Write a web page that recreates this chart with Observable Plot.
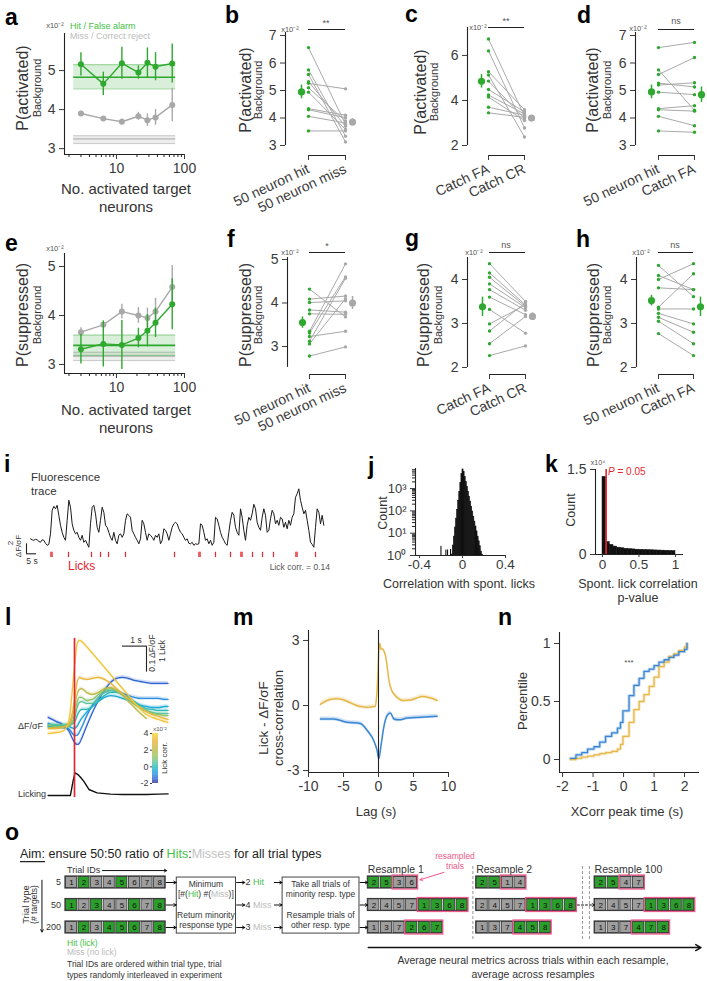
<!DOCTYPE html>
<html><head><meta charset="utf-8">
<script src="https://cdn.jsdelivr.net/npm/d3@7"></script>
<script src="https://cdn.jsdelivr.net/npm/@observablehq/plot@0.6"></script>
<style>
html,body{margin:0;padding:0;background:#fff;}
#root{position:relative;width:707px;height:981px;overflow:hidden;background:#fff;}
</style></head><body><div id="root"></div>
<script>
// ---------------- DATA ----------------
// a / e : vs number of activated targets
const nTargets = [3, 6.4, 12, 21, 28.5, 37.5, 66];
const aHit = [5.16, 4.66, 5.19, 4.95, 5.2, 5.1, 5.18];
const aHitErr = [0.3, 0.3, 0.41, 0.17, 0.38, 0.36, 0.5];
const aMiss = [3.9, 3.77, 3.69, 3.83, 3.73, 3.8, 4.12];
const aMissErr = [0.06, 0.04, 0.07, 0.1, 0.16, 0.2, 0.43];
const aHitBg = [4.53, 4.83, 5.15];
const aMissBg = [3.13, 3.25, 3.33];
const eHit = [3.31, 3.42, 3.4, 3.54, 3.69, 3.85, 4.23];
const eHitErr = [0.3, 0.47, 0.5, 0.2, 0.33, 0.3, 0.52];
const eMiss = [3.66, 3.81, 4.08, 4.0, 3.95, 4.08, 4.58];
const eMissErr = [0.09, 0.05, 0.15, 0.16, 0.2, 0.27, 0.44];
const eHitBg = [3.18, 3.39, 3.6];
const eMissBg = [3.08, 3.17, 3.25];
const bgSpan = [2.35, 74];

// paired panels (values x10^-2)
const bHit  = [6.56, 5.75, 5.58, 5.32, 5.26, 5.10, 4.94, 4.34, 4.30, 4.06, 3.53];
const bMiss = [3.77, 3.34, 3.13, 3.70, 5.06, 3.89, 3.58, 4.10, 4.01, 3.82, 3.53];
const bMeans = [[4.95, 0.25], [3.85, 0.12]];
const cFA = [6.73, 6.20, 5.28, 5.13, 4.86, 4.49, 4.24, 4.15, 3.70, 3.45];
const cCR = [3.30, 2.78, 3.59, 2.38, 3.20, 3.49, 3.40, 3.11, 3.35, 3.25];
const cMeans = [[4.85, 0.3], [3.22, 0.08]];
const dHit = [6.56, 5.75, 5.58, 5.27, 5.20, 4.94, 4.34, 4.30, 4.06, 3.53];
const dFA  = [6.75, 4.28, 6.20, 5.13, 5.28, 4.85, 4.45, 4.25, 3.72, 3.48];
const dMeans = [[4.95, 0.25], [4.85, 0.28]];
const fHit  = [4.32, 4.09, 4.01, 3.84, 3.75, 3.35, 3.31, 3.23, 3.12, 3.06, 2.78];
const fMiss = [3.68, 4.16, 4.05, 3.79, 3.74, 4.90, 4.60, 3.35, 4.57, 4.10, 2.99];
const fMeans = [[3.55, 0.13], [4.0, 0.15]];
const gFA = [4.36, 4.15, 4.05, 3.90, 3.77, 3.60, 3.32, 2.99, 2.83, 2.54, 2.27];
const gCR = [3.50, 3.42, 3.39, 3.36, 3.30, 3.20, 2.78, 3.42, 3.47, 3.16, 2.49];
const gMeans = [[3.38, 0.22], [3.16, 0.08]];
const hHit = [4.32, 4.09, 4.00, 3.81, 3.37, 3.33, 3.23, 3.14, 3.05, 2.77];
const hFA  = [3.61, 3.77, 4.36, 3.77, 4.13, 3.33, 2.99, 2.80, 2.54, 2.27];
const hMeans = [[3.52, 0.12], [3.38, 0.22]];

// i : fluorescence trace (dF/sF), sampled every 5/6 s
const iDt = 5 / 6;
const iTrace = [3.0,2.8,2.7,2.9,2.8,2.5,2.3,2.8,2.7,2.1,1.7,1.9,4.0,8.7,9.5,9.0,9.7,7.7,5.7,4.3,3.3,2.7,6.7,10.7,9.3,6.0,4.7,4.0,4.3,3.3,2.7,3.7,2.3,2.7,2.0,1.3,6.0,9.3,9.7,8.0,5.3,4.3,6.7,9.3,8.3,5.7,5.3,4.3,3.3,2.7,4.3,2.7,2.0,3.7,4.0,3.3,4.0,6.7,8.0,7.7,7.3,4.7,4.0,3.3,2.7,2.0,3.0,6.7,6.0,4.3,2.7,4.0,3.7,3.3,2.7,3.7,3.3,4.0,2.0,2.7,5.0,4.7,4.0,2.7,4.0,5.3,6.0,6.3,6.0,5.0,4.3,4.0,3.3,2.7,3.0,2.1,2.0,2.3,1.7,2.0,1.9,2.0,6.0,5.7,4.3,2.7,3.0,2.0,2.7,1.7,2.3,7.3,7.0,5.7,4.3,3.3,2.7,2.0,1.7,4.3,6.7,8.3,7.7,5.3,4.3,3.7,9.0,7.3,4.7,2.7,5.7,7.3,6.7,8.0,9.9,9.0,6.3,5.3,4.7,7.3,9.0,7.7,4.3,4.7,7.0,8.7,8.0,6.0,6.7,5.7,7.3,7.0,5.3,6.3,5.0,6.7,5.7,7.3,8.0,11.3,12.0,13.0,10.7,9.3,8.0,8.7,6.7,4.7,2.3,1.9,1.3,5.3,9.0,8.3,6.0,7.7,5.7];
const iLicks = [10.2, 10.8, 19, 30.5, 35, 39, 47.5, 72, 84.2, 84.8, 92.5, 100, 105.2, 105.8, 111, 116, 121.5, 132.7, 133.3, 142.5];

// j : histogram of correlation with spont. licks (bin left edge, width, count)
const jLeft = [-0.197,-0.151,-0.135,-0.107,-0.10,-0.09,-0.08,-0.07,-0.06,-0.05,-0.04,-0.03,-0.02,-0.01,0.00,0.01,0.02,0.03,0.04,0.05,0.06,0.07,0.08,0.09,0.10,0.11,0.12,0.13,0.14,0.15,0.16,0.17,0.18];
const jWidth = [0.003,0.003,0.003,0.003,0.01,0.01,0.01,0.01,0.01,0.01,0.01,0.01,0.01,0.01,0.01,0.01,0.01,0.01,0.01,0.01,0.01,0.01,0.01,0.01,0.01,0.01,0.01,0.01,0.01,0.01,0.01,0.01,0.01];
const jCount = [2.5,1.7,1.7,1.8,1.1,2.8,7,18,45,112,280,710,1800,4500,7200,5600,3300,2000,1200,720,430,260,155,93,55,33,20,12,7,4.3,2.6,1.5,1.1];

// k : histogram of p-values (x10^4)
const kLeft = [0,0.05,0.1,0.15,0.2,0.25,0.3,0.35,0.4,0.45,0.5,0.55,0.6,0.65,0.7,0.75,0.8,0.85,0.9,0.95];
const kCount = [1.37,0.22,0.17,0.14,0.12,0.11,0.1,0.095,0.09,0.085,0.082,0.08,0.078,0.075,0.072,0.07,0.068,0.066,0.064,0.062];

// l : lick-triggered averages, grouped by lick correlation (x10^-2)
const lTimes = [-1.1,-0.75,-0.5,-0.25,0,0.1,0.2,0.3,0.5,0.75,1,1.25,1.5,1.75,2,2.25,2.5,2.75,3,3.25,3.5,3.75,3.9];
const lCorr = [3.5, 3, 2, 1, 0.5, 0, -0.5, -1, -1.5];
const lT1 = [-0.031,-0.027,-0.023,0.012,0.223,0.308,0.327,0.323,0.304,0.277,0.25,0.223,0.196,0.169,0.142,0.115,0.088,0.062,0.042,0.031,0.023,0.015,0.012];
const lT2 = [-0.012,-0.012,-0.008,0.004,0.096,0.162,0.185,0.181,0.177,0.181,0.185,0.177,0.162,0.142,0.123,0.104,0.085,0.069,0.054,0.042,0.035,0.027,0.023];
const lT3 = [-0.008,-0.008,-0.004,0,0.065,0.115,0.138,0.142,0.127,0.119,0.127,0.142,0.146,0.135,0.115,0.092,0.069,0.046,0.027,NaN,NaN,NaN,NaN];
const lT4 = [0,-0.004,-0.004,-0.004,0.038,0.085,0.108,0.108,0.096,0.1,0.119,0.135,0.142,0.135,0.119,0.1,0.081,0.065,0.054,0.046,0.042,0.038,0.038];
const lT5 = [0.004,0.004,0.004,0.004,0.027,0.065,0.088,0.092,0.085,0.085,0.108,0.127,0.135,0.131,0.119,0.104,0.085,0.069,0.058,0.05,0.046,0.046,0.046];
const lT6 = [0,0,0,0,0.012,0.035,0.054,0.062,0.062,0.073,0.096,0.115,0.127,0.127,0.119,0.108,0.092,0.077,0.065,0.062,0.058,0.058,0.058];
const lT7 = [-0.004,-0.004,-0.004,-0.004,-0.012,-0.004,0.012,0.027,0.05,0.073,0.092,0.108,0.115,0.112,0.104,0.096,0.085,0.077,0.073,0.069,0.069,0.073,0.073];
const lT8 = [0.008,-0.004,-0.008,-0.012,-0.038,-0.038,-0.027,-0.008,0.035,0.077,0.108,0.127,0.135,0.131,0.123,0.115,0.108,0.104,0.104,0.104,0.104,0.1,0.1];
const lT9 = [0.031,0.015,0.004,-0.019,-0.065,-0.073,-0.069,-0.05,-0.004,0.05,0.096,0.135,0.165,0.181,0.185,0.181,0.173,0.169,0.165,0.162,0.162,0.162,0.162];
const lickTimes = [-1.1,-0.6,-0.17,-0.05,0.02,0.15,0.25,0.39,0.6,0.94,1.5,2,2.5,3,3.5,3.9];
const lickRate = [0,0,0,0.6,0.87,0.8,0.7,0.54,0.23,0.1,0.05,0.04,0.04,0.04,0.05,0.06];
const lColorDomain = [-2,-1.5,-1,-0.5,0,0.5,1,2,3,4];
const lColorRange = ["#2c2f8f","#2f63d2","#2b8be0","#1aa9d8","#2db9b4","#5ec39b","#8cc46b","#bdbb4a","#e8b43a","#f7d531"];

// m : cross-correlation
const mGoldT = [-8.3,-6.9,-5.9,-4.5,-3.5,-2.6,-1.6,-0.7,-0.45,-0.3,-0.15,0,0.1,0.2,0.35,0.5,0.8,1.0,1.2,1.5,1.9,2.4,2.9,3.6,4.6,5.5,6.2,7.2,8.4];
const mGoldV = [0.05,0.28,0.31,0.2,0.05,-0.05,-0.08,-0.05,-0.05,0.3,1.0,2.2,2.8,2.86,2.6,2.62,2.5,2.3,1.9,1.15,0.69,0.46,0.31,0.23,0.25,0.35,0.42,0.37,0.23];
const mBlueT = [-8.3,-6.4,-4.5,-2.6,-1.6,-0.7,-0.2,0.05,0.4,0.76,1.24,1.7,2.2,2.9,4.1,6.0,8.4];
const mBlueV = [-0.62,-0.62,-0.77,-0.83,-1.15,-1.6,-2.07,-2.46,-1.76,-1.0,-0.46,-0.35,-0.62,-0.66,-0.58,-0.54,-0.49];

// n : cumulative distributions of xcorr peak time
const nT = [-1.74,-1.56,-1.37,-1.18,-0.97,-0.78,-0.59,-0.39,-0.2,-0.1,-0.02,0.18,0.34,0.51,0.67,0.84,1.0,1.16,1.33,1.49,1.65,1.81,2.0,2.08];
const nBlue = [0.01,0.04,0.06,0.09,0.11,0.15,0.2,0.23,0.27,0.32,0.42,0.55,0.64,0.7,0.76,0.78,0.81,0.84,0.86,0.88,0.9,0.93,0.95,1.0];
const nGold = [0,0.01,0.02,0.03,0.04,0.05,0.06,0.07,0.09,0.13,0.2,0.32,0.43,0.5,0.56,0.63,0.71,0.8,0.84,0.89,0.91,0.94,0.97,1.0];

// o : resampling schematic
const oTypes = ["5", "50", "200"];
const oHits = [[2,5],[1,3,6,8],[2,4,5,6,8]];
const oMinority = ["Hit", "Miss", "Miss"];
const oMinorityN = [2, 4, 3];
const oResNames = ["Resample 1", "Resample 2", "Resample 100"];
const oResSets = [
  [[[2,5],[3,6]], [[2,4,5,7],[1,3,6,8]], [[1,3,7],[2,6,7]]],
  [[[2,5],[1,4]], [[2,4,5,7],[1,3,6,8]], [[1,3,7],[4,5,8]]],
  [[[2,5],[4,7]], [[2,4,5,7],[1,3,6,8]], [[1,3,7],[4,7,8]]]
];

// ---------------- SETUP ----------------
const W = 707, H = 981;
const FONT = '"Liberation Sans", Arial, Helvetica, sans-serif';
const GREEN = "#2ea82e", LGREEN = "#45c145", GRAY = "#a8a8a8", AX = "#222", TXT = "#3a3a3a";
const RED = "#e8262f", GOLD = "#e6b84c", BLUE = "#3b86d4", PINK = "#ee5a8a";
const OGREEN = "#2b9e2b", OGRAY = "#9e9e9e";
const root = document.getElementById("root");
const fmt = d => String(d);

function P(box, opts) {
  const [L, T, R, B] = box;
  const svg = Plot.plot({
    width: W, height: H, marginLeft: L, marginTop: T, marginRight: W - R, marginBottom: H - B,
    style: {fontFamily: FONT, fontSize: "14px", color: TXT, background: "none", overflow: "visible"},
    ...opts
  });
  svg.style.position = "absolute"; svg.style.left = "0px"; svg.style.top = "0px";
  svg.style.background = "none"; svg.style.maxWidth = "none";
  root.append(svg);
  return svg;
}

// ---------------- a / e ----------------
function targetPanel(box, yDom, yTicks, hM, hE, mM, mE, hBg, mBg) {
  const xDom = [1.72, 100];
  const hit = nTargets.map((t, i) => ({t, m: hM[i], e: hE[i]}));
  const miss = nTargets.map((t, i) => ({t, m: mM[i], e: mE[i]}));
  const band = (bg, c, op, lineOp) => [
    Plot.rect([bg], {x1: bgSpan[0], x2: bgSpan[1], y1: d => d[0], y2: d => d[2], fill: c, fillOpacity: op}),
    Plot.ruleY([bg[0], bg[2]], {x1: bgSpan[0], x2: bgSpan[1], stroke: c, strokeOpacity: lineOp}),
    Plot.ruleY([bg[1]], {x1: bgSpan[0], x2: bgSpan[1], stroke: c, strokeWidth: 1.6})
  ];
  const series = (rows, c) => [
    Plot.ruleX(rows, {x: "t", y1: d => d.m - d.e, y2: d => d.m + d.e, stroke: c, strokeWidth: 1.4}),
    Plot.line(rows, {x: "t", y: "m", stroke: c, strokeWidth: 1.4}),
    Plot.dot(rows, {x: "t", y: "m", fill: c, r: 3})
  ];
  const minor = [2,3,4,5,6,7,8,9,20,30,40,50,60,70,80,90];
  P(box, {
    x: {type: "log", domain: xDom, label: null},
    y: {domain: yDom, label: null},
    marks: [
      ...band(mBg, "#c4c4c4", 0.3, 0.9), ...band(hBg, GREEN, 0.18, 0.45),
      ...series(miss, GRAY), ...series(hit, GREEN),
      Plot.ruleX([xDom[0]], {stroke: AX, strokeWidth: 1.1}),
      Plot.ruleY([yDom[0]], {stroke: AX, strokeWidth: 1.1}),
      Plot.axisY({ticks: yTicks, tickSize: 5, fontSize: 14, tickFormat: fmt, color: TXT, label: null}),
      Plot.axisX({ticks: minor, tickSize: 3, tickFormat: () => "", color: AX, label: null}),
      Plot.axisX({ticks: [10, 100], tickSize: 5, fontSize: 14, tickFormat: fmt, color: TXT, label: null})
    ]
  });
}
targetPanel([64, 33, 184, 154], [2.85, 5.95], [3, 4, 5], aHit, aHitErr, aMiss, aMissErr, aHitBg, aMissBg);
targetPanel([64, 253, 184, 373], [2.816, 5.265], [3, 4, 5], eHit, eHitErr, eMiss, eMissErr, eHitBg, eMissBg);

// ---------------- paired panels ----------------
function pairedPanel(o) {
  const [L, T, R, B] = o.box;
  const span = o.xPix[1] - o.xPix[0];
  const xDom = [(L - o.xPix[0]) / span, 1 + (R - o.xPix[1]) / span];
  const pxPerY = (B - T) / (o.yDom[1] - o.yDom[0]);
  const sigY = o.yDom[1] + (T - o.sigPx) / pxPerY;
  const pairs = o.left.map((a, i) => ({a, b: o.right[i]}));
  const mean = (m, x, dx, c) => [
    Plot.ruleX([m], {x, dx, y1: d => d[0] - d[1], y2: d => d[0] + d[1], stroke: c, strokeWidth: 1.5}),
    Plot.dot([m], {x, dx, y: d => d[0], r: 3.6, fill: c})
  ];
  P(o.box, {
    x: {domain: xDom, label: null},
    y: {domain: o.yDom, label: null},
    marks: [
      Plot.ruleX([xDom[0]], {y1: o.yLow, y2: o.yDom[1], stroke: AX, strokeWidth: 1.1}),
      Plot.axisY({ticks: o.yTicks, tickSize: 5, fontSize: 14, tickFormat: fmt, color: TXT, label: null}),
      Plot.ruleY([o.yDom[0]], {x1: 0, x2: 1, stroke: AX, strokeWidth: 1.1}),
      Plot.axisX({ticks: [0, 1], tickSize: 5, tickRotate: -25, fontSize: 14, tickFormat: i => o.names[i], color: TXT, label: null}),
      Plot.ruleY([sigY], {x1: 0, x2: 1, stroke: AX, strokeWidth: 1.1}),
      Plot.link(pairs, {x1: 0, x2: 1, y1: "a", y2: "b", stroke: "#a9a9a9", strokeWidth: 1}),
      Plot.dot(pairs, {x: 0, y: "a", r: 1.7, fill: o.lc}),
      Plot.dot(pairs, {x: 1, y: "b", r: 1.7, fill: o.rc}),
      ...mean(o.means[0], 0, -7, o.lc),
      ...mean(o.means[1], 1, 7, o.rc)
    ]
  });
}
const N1 = ["50 neuron hit", "50 neuron miss"], N2 = ["Catch FA", "Catch CR"], N3 = ["50 neuron hit", "Catch FA"];
pairedPanel({box: [285, 32, 358, 155], yDom: [2.636, 7.11], yLow: 3, yTicks: [3,4,5,6,7], xPix: [308, 345], left: bHit, right: bMiss, lc: GREEN, rc: GRAY, means: bMeans, names: N1, sigPx: 29});
pairedPanel({box: [467, 27, 540, 155], yDom: [1.556, 7.24], yLow: 2, yTicks: [2,4,6], xPix: [488, 524], left: cFA, right: cCR, lc: GREEN, rc: GRAY, means: cMeans, names: N2, sigPx: 27});
pairedPanel({box: [635, 32, 707, 155], yDom: [2.636, 7.11], yLow: 3, yTicks: [3,4,5,6,7], xPix: [658, 694], left: dHit, right: dFA, lc: GREEN, rc: GREEN, means: dMeans, names: N3, sigPx: 29});
pairedPanel({box: [287, 257, 358, 374], yDom: [2.356, 5.046], yLow: 2.52, yTicks: [3,4,5], xPix: [309, 345], left: fHit, right: fMiss, lc: GREEN, rc: GRAY, means: fMeans, names: N1, sigPx: 252});
pairedPanel({box: [467, 257, 540, 374], yDom: [1.84, 4.5], yLow: 2, yTicks: [2,3,4], xPix: [489, 525], left: gFA, right: gCR, lc: GREEN, rc: GRAY, means: gMeans, names: N2, sigPx: 252});
pairedPanel({box: [636, 257, 707, 374], yDom: [1.84, 4.5], yLow: 2, yTicks: [2,3,4], xPix: [658, 693], left: hHit, right: hFA, lc: GREEN, rc: GREEN, means: hMeans, names: N3, sigPx: 252});

// ---------------- i ----------------
P([20, 470, 330, 560], {
  x: {domain: [-5, 150], axis: null}, y: {domain: [-1.34, 16.66], axis: null},
  marks: [
    Plot.line(iTrace.map((v, k) => ({t: k * iDt, v})), {x: "t", y: "v", stroke: "#1a1a1a", strokeWidth: 1}),
    Plot.ruleX(iLicks, {y1: -0.75, y2: 0.3, stroke: RED, strokeWidth: 1.2}),
    Plot.ruleX([-2], {y1: 0, y2: 2, stroke: AX, strokeWidth: 1.1}),
    Plot.ruleY([0], {x1: -2, x2: 3, stroke: AX, strokeWidth: 1.1})
  ]
});

// ---------------- j ----------------
const jRows = jLeft.map((x0, k) => ({x0, x1: x0 + jWidth[k], c: jCount[k]}));
const jMinor = [2,3,4,5,6,7,8,9,20,30,40,50,60,70,80,90,200,300,400,500,600,700,800,900,2000,3000,4000,5000,6000,7000];
const SUP = ["\u2070", "\u00b9", "\u00b2", "\u00b3"];
P([415, 468, 505, 555], {
  x: {domain: [-0.437, 0.4], label: null}, y: {type: "log", domain: [1, 7943], label: null},
  marks: [
    Plot.rect(jRows, {x1: "x0", x2: "x1", y1: 1, y2: "c", fill: "#111", stroke: "#111", strokeWidth: 0.6}),
    Plot.ruleX([-0.437], {stroke: AX, strokeWidth: 1.1}),
    Plot.ruleY([1], {stroke: AX, strokeWidth: 1.1}),
    Plot.axisY({ticks: jMinor, tickSize: 3, tickFormat: () => "", color: AX, label: null}),
    Plot.axisY({ticks: [1, 10, 100, 1000], tickSize: 5, fontSize: 13, tickFormat: d => "10" + SUP[Math.round(Math.log10(d))], color: TXT, label: null}),
    Plot.axisX({ticks: [-0.4, 0, 0.4], tickSize: 3, tickPadding: 1, fontSize: 13.5, tickFormat: fmt, color: TXT, label: null})
  ]
});

// ---------------- k ----------------
const kRows = kLeft.map((x0, k) => ({x0, x1: x0 + 0.05, c: kCount[k]}));
P([595, 469, 683, 554], {
  x: {domain: [-0.096, 1.11], label: null}, y: {domain: [0, 1.5], label: null},
  marks: [
    Plot.rect(kRows, {x1: "x0", x2: "x1", y1: 0, y2: "c", fill: "#111", stroke: "#111", strokeWidth: 0.5}),
    Plot.ruleX([0.05], {stroke: RED, strokeWidth: 1.6}),
    Plot.ruleX([-0.096], {stroke: AX, strokeWidth: 1.1}),
    Plot.ruleY([0], {stroke: AX, strokeWidth: 1.1}),
    Plot.axisY({ticks: [0, 1.5], tickSize: 5, fontSize: 14, tickFormat: fmt, color: TXT, label: null}),
    Plot.axisX({ticks: [0, 0.5, 1], tickSize: 3, tickPadding: 2, fontSize: 13.5, tickFormat: fmt, color: TXT, label: null})
  ]
});

// ---------------- l ----------------
const lSeries = [lT1, lT2, lT3, lT4, lT5, lT6, lT7, lT8, lT9];
const lRows = lSeries.flatMap((vals, s) => vals.map((v, k) => ({id: s, corr: lCorr[s], t: lTimes[k], v})));
const lDrawOrder = [8, 7, 6, 5, 4, 3, 2, 1, 0];
const lRowsOrdered = lDrawOrder.flatMap(s => lRows.filter(d => d.id === s));
const LICK0 = -0.269, LICK_UNIT = 0.1;
const lickRows = lickTimes.map((t, k) => ({t, n: lickRate[k]}));
const lColor = {type: "linear", domain: lColorDomain, range: lColorRange};
P([47, 630, 168, 802], {
  x: {domain: [-1.125, 3.917], axis: null}, y: {domain: [-0.296, 0.365], axis: null},
  color: lColor,
  marks: [
    Plot.areaY(lRowsOrdered.filter(d => !isNaN(d.v)), {x: "t", y1: d => d.v - 0.007, y2: d => d.v + 0.007, z: "id", fill: "corr", fillOpacity: 0.22}),
    Plot.line(lRowsOrdered, {x: "t", y: "v", z: "id", stroke: "corr", strokeWidth: 1.3, curve: "monotone-x"}),
    Plot.line(lickRows, {x: "t", y: d => LICK0 + d.n * LICK_UNIT, stroke: "#111", strokeWidth: 1.4}),
    Plot.ruleX([0], {y1: -0.277, y2: 0.335, stroke: RED, strokeWidth: 1.7}),
    Plot.ruleY([0.305], {x1: 2, x2: 3, stroke: AX, strokeWidth: 1.1}),
    Plot.ruleX([3], {y1: 0.205, y2: 0.305, stroke: AX, strokeWidth: 1.1})
  ]
});
// colorbar
const cbSteps = d3.range(-2, 4, 0.05);
P([152, 733, 158, 783], {
  x: {domain: [0, 1], axis: null}, y: {domain: [-2, 4], label: null},
  color: lColor,
  marks: [
    Plot.rect(cbSteps, {x1: 0, x2: 1, y1: d => d, y2: d => d + 0.06, fill: d => d}),
    Plot.axisY({ticks: [-2, 0, 2, 4], tickSize: 2, tickPadding: 2, fontSize: 9, tickFormat: fmt, color: TXT, label: null})
  ]
});

// ---------------- m ----------------
const mGold = mGoldT.map((t, k) => ({t, v: mGoldV[k]}));
const mBlue = mBlueT.map((t, k) => ({t, v: mBlueV[k]}));
P([308, 630, 448, 772], {
  x: {domain: [-10, 10], label: null}, y: {domain: [-3.09, 3.46], label: null},
  marks: [
    Plot.areaY(mGold, {x: "t", y1: d => d.v - 0.09, y2: d => d.v + 0.09, fill: GOLD, fillOpacity: 0.25, curve: "monotone-x"}),
    Plot.areaY(mBlue, {x: "t", y1: d => d.v - 0.09, y2: d => d.v + 0.09, fill: BLUE, fillOpacity: 0.25, curve: "monotone-x"}),
    Plot.line(mGold, {x: "t", y: "v", stroke: GOLD, strokeWidth: 1.5, curve: "monotone-x"}),
    Plot.line(mBlue, {x: "t", y: "v", stroke: BLUE, strokeWidth: 1.5, curve: "monotone-x"}),
    Plot.ruleX([0], {stroke: AX, strokeWidth: 1.1}),
    Plot.ruleX([-10], {stroke: AX, strokeWidth: 1.1}),
    Plot.ruleY([-3.09], {stroke: AX, strokeWidth: 1.1}),
    Plot.axisY({ticks: [-3, 0, 3], tickSize: 5, fontSize: 14, tickFormat: fmt, color: TXT, label: null}),
    Plot.axisX({ticks: [-10, -5, 0, 5, 10], tickSize: 5, fontSize: 14, tickFormat: fmt, color: TXT, label: null})
  ]
});

// ---------------- n ----------------
const nBlueRows = nT.map((t, k) => ({t, v: nBlue[k]}));
const nGoldRows = nT.map((t, k) => ({t, v: nGold[k]}));
P([559, 632, 699, 772], {
  x: {domain: [-2.1, 2.49], label: null}, y: {domain: [-0.112, 1.095], label: null},
  marks: [
    Plot.line(nGoldRows, {x: "t", y: "v", stroke: GOLD, strokeWidth: 3.2, strokeOpacity: 0.3, curve: "step-after"}),
    Plot.line(nBlueRows, {x: "t", y: "v", stroke: BLUE, strokeWidth: 3.2, strokeOpacity: 0.3, curve: "step-after"}),
    Plot.line(nGoldRows, {x: "t", y: "v", stroke: GOLD, strokeWidth: 1.3, curve: "step-after"}),
    Plot.line(nBlueRows, {x: "t", y: "v", stroke: BLUE, strokeWidth: 1.3, curve: "step-after"}),
    Plot.ruleX([-2.1], {stroke: AX, strokeWidth: 1.1}),
    Plot.ruleY([-0.112], {stroke: AX, strokeWidth: 1.1}),
    Plot.axisY({ticks: [0, 0.5, 1], tickSize: 5, fontSize: 14, tickFormat: fmt, color: TXT, label: null}),
    Plot.axisX({ticks: [-2, -1, 0, 1, 2], tickSize: 5, fontSize: 14, tickFormat: fmt, color: TXT, label: null})
  ]
});

// ---------------- o (schematic, slot/row units) ----------------
const OX0 = 65.4, OPITCH = 12.6, OY0 = 882, OROW = 22.5;
const sx = s => OX0 + s * OPITCH, ry = r => OY0 + r * OROW;
const oResStart = [24, 32.6, 42];
const oCells = [], oPink = [], oStrips = [];
oTypes.forEach((_, k) => {
  for (let id = 1; id <= 8; id++) oCells.push({x: id - 1, row: k, id, hit: oHits[k].includes(id)});
  oStrips.push({x1: 0, x2: 7.88, row: k});
});
oResSets.forEach((set, r) => {
  const start = oResStart[r];
  set.forEach(([kept, res], k) => {
    const minHit = oMinority[k] === "Hit";
    kept.forEach((id, j) => oCells.push({x: start + j, row: k, id, hit: minHit}));
    res.forEach((id, j) => oCells.push({x: start + kept.length + j, row: k, id, hit: !minHit}));
    oStrips.push({x1: start, x2: start + kept.length + res.length - 0.12, row: k});
    oPink.push({x1: start + kept.length - 0.07, x2: start + kept.length + res.length - 0.05, row: k});
  });
});
const oBoxes = [{x1: 8.8, x2: 13.5, y1: -0.22, y2: 2.27}, {x1: 17.2, x2: 23.3, y1: -0.22, y2: 2.27}];
const oArrows = [];
[0, 1, 2].forEach(k => {
  oArrows.push({x1: 7.95, x2: 8.75, y1: k, y2: k});
  oArrows.push({x1: 13.55, x2: 14.2, y1: k, y2: k});
  oArrows.push({x1: 16.55, x2: 17.15, y1: k, y2: k});
  oArrows.push({x1: 23.35, x2: 23.95, y1: k, y2: k});
});
oArrows.push({x1: 2.9, x2: 8.0, y1: -0.53, y2: -0.53});
oArrows.push({x1: -1.9, x2: -1.9, y1: -0.1, y2: 2.2});
P([0, 0, W, H], {
  x: {domain: [(0 - OX0) / OPITCH, (W - OX0) / OPITCH], axis: null},
  y: {domain: [(0 - OY0) / OROW, (H - OY0) / OROW], range: [0, H], axis: null},
  color: {type: "identity"},
  marks: [
    Plot.rect(oBoxes, {x1: "x1", x2: "x2", y1: "y1", y2: "y2", fill: "none", stroke: "#444", strokeWidth: 1}),
    Plot.rect(oCells, {x1: "x", x2: d => d.x + 0.88, y1: d => d.row - 0.25, y2: d => d.row + 0.25, fill: d => d.hit ? OGREEN : OGRAY, stroke: "#333", strokeWidth: 0.8}),
    Plot.rect(oStrips, {x1: d => d.x1 - 0.04, x2: d => d.x2 + 0.04, y1: d => d.row - 0.27, y2: d => d.row + 0.27, fill: "none", stroke: "#333", strokeWidth: 1}),
    Plot.rect(oPink, {x1: "x1", x2: "x2", y1: d => d.row - 0.31, y2: d => d.row + 0.31, fill: "none", stroke: PINK, strokeWidth: 1.3}),
    Plot.text(oCells, {x: d => d.x + 0.44, y: "row", text: "id", fontSize: 8, fill: "#111"}),
    Plot.arrow(oArrows, {x1: "x1", y1: "y1", x2: "x2", y2: "y2", stroke: "#111", strokeWidth: 1, headLength: 4}),
    Plot.arrow([{x1: 40.6, x2: 41.95, y1: 1, y2: 1}], {x1: "x1", y1: "y1", x2: "x2", y2: "y2", stroke: "#111", strokeWidth: 1, headLength: 4, strokeDasharray: "2,2"}),
    Plot.arrow([{x1: 24, x2: 50.4, y1: 2.89, y2: 2.89}], {x1: "x1", y1: "y1", x2: "x2", y2: "y2", stroke: "#111", strokeWidth: 1.5, headLength: 6}),
    Plot.arrow([{x1: 30.0, x2: 28.1, y1: -0.45, y2: -0.12}], {x1: "x1", y1: "y1", x2: "x2", y2: "y2", stroke: PINK, strokeWidth: 1, headLength: 4}),
    Plot.ruleX([32.3, 41.0, 41.55], {y1: -0.71, y2: 2.6, stroke: "#999", strokeDasharray: "3,2"})
  ]
});

// ---------------- text overlay ----------------
const ov = d3.create("svg").attr("width", W).attr("height", H)
  .style("position", "absolute").style("left", "0px").style("top", "0px").style("overflow", "visible");
function T(x, y, parts, o = {}) {
  const t = ov.append("text").attr("x", x).attr("y", y)
    .attr("font-family", FONT).attr("font-size", o.size ?? 12)
    .attr("fill", o.color ?? "#333").attr("text-anchor", o.anchor ?? "start")
    .attr("dominant-baseline", o.base ?? "central");
  if (o.weight) t.attr("font-weight", o.weight);
  if (o.rotate) t.attr("transform", `rotate(${o.rotate} ${x} ${y})`);
  if (typeof parts === "string") parts = [[parts]];
  for (const [s, c, deco, fs] of parts) {
    const sp = t.append("tspan").text(s);
    if (c) sp.attr("fill", c);
    if (deco) sp.attr("text-decoration", deco);
    if (fs) sp.attr("font-style", fs);
  }
  return t;
}
const LET = {size: 23, weight: 700, base: "alphabetic", color: "#000"};
[["a",5,25],["b",225,23],["c",405,22],["d",577,23],["e",5,251],["f",227,247],["g",405,246],["h",576,247],
 ["i",4,472],["j",368,474],["k",545,472],["l",5,625],["m",233,625],["n",498,625],["o",5,840]]
  .forEach(([s, x, y]) => T(x, y, s, LET));
const X10 = "x10\u207b\u00b2";
[[55,25],[290,29],[478,27],[638,28],[55,248],[290,252],[474,252],[641,252]].forEach(([x, y]) => T(x, y, X10, {size: 7.5, color: "#555", anchor: "middle"}));
T(70, 26, "Hit / False alarm", {size: 9, color: LGREEN});
T(70, 36, "Miss / Correct reject", {size: 9, color: "#bbb"});
function ylab(x1, x2, y, main) {
  T(x1, y, main, {size: 16, rotate: -90, anchor: "middle"});
  T(x2, y, "Background", {size: 11, rotate: -90, anchor: "middle"});
}
ylab(22, 37, 88, "P(activated)"); ylab(245, 258, 90, "P(activated)"); ylab(420, 434, 92, "P(activated)"); ylab(592, 607, 90, "P(activated)");
ylab(22, 37, 315, "P(suppressed)"); ylab(245, 258, 315, "P(suppressed)"); ylab(423, 438, 315, "P(suppressed)"); ylab(593, 607, 315, "P(suppressed)");
T(126, 188, "No. activated target", {size: 15, anchor: "middle"}); T(126, 206, "neurons", {size: 15, anchor: "middle"});
T(126, 409, "No. activated target", {size: 15, anchor: "middle"}); T(126, 427, "neurons", {size: 15, anchor: "middle"});
[["**",326,23],["**",506,21],["ns",676,21],["*",327,246],["ns",506,245],["ns",675,245]].forEach(([s, x, y]) => T(x, y, s, {size: 9, color: "#555", anchor: "middle"}));
// i
T(31, 477, "Fluorescence", {size: 11.5}); T(31, 491, "trace", {size: 11.5});
T(10, 543, "2", {size: 8, rotate: -90, anchor: "middle"});
T(18, 546, "\u0394F/\u03c3F", {size: 8, rotate: -90, anchor: "middle"});
T(32, 561, "5 s", {size: 8.5, anchor: "middle"});
T(68, 566, "Licks", {size: 12, color: RED});
T(330, 567, "Lick corr. = 0.14", {size: 8.5, color: "#555", anchor: "end"});
// j, k
T(383, 513, "Count", {size: 12.5, rotate: -90, anchor: "middle"});
T(459, 584, "Correlation with spont. licks", {size: 12.5, anchor: "middle"});
T(598, 462, "x10\u2074", {size: 7, color: "#555", anchor: "middle"});
T(608, 471, [["P", RED, null, "italic"], [" = 0.05"]], {size: 10, color: RED});
T(571, 510, "Count", {size: 12.5, rotate: -90, anchor: "middle"});
T(638, 584, "Spont. lick correlation", {size: 12.5, anchor: "middle"});
T(638, 598, "p-value", {size: 12.5, anchor: "middle"});
// l
T(43, 726, "\u0394F/\u03c3F", {size: 9, anchor: "end"});
T(46, 794, "Licking", {size: 9, anchor: "end"});
T(136, 640, "1 s", {size: 8.5, anchor: "middle"});
T(152, 653, "0.1 \u0394F/\u03c3F", {size: 8.5, rotate: -90, anchor: "middle"});
T(162, 651, "1 Lick", {size: 8.5, rotate: -90, anchor: "middle"});
T(160, 729, X10, {size: 6, color: "#555", anchor: "middle"});
T(164, 758, "Lick corr.", {size: 8, rotate: -90, anchor: "middle"});
// m, n
T(263, 718, "Lick - \u0394F/\u03c3F", {size: 13.5, rotate: -90, anchor: "middle"});
T(278, 718, "cross-correlation", {size: 13, rotate: -90, anchor: "middle"});
T(376, 811, "Lag (s)", {size: 13, anchor: "middle"});
T(629, 662, "***", {size: 8, color: "#555", anchor: "middle"});
T(522, 701, "Percentile", {size: 13, rotate: -90, anchor: "middle"});
T(627, 811, "XCorr peak time (s)", {size: 13, anchor: "middle"});
// o
T(20, 854, [["Aim:", null, "underline"], [" ensure 50:50 ratio of "], ["Hits", LGREEN], [":"], ["Misses", "#c2c2c2"], [" for all trial types"]], {size: 12.5, color: "#222"});
T(67, ry(-0.53), "Trial IDs", {size: 9});
T(25, ry(1), "Trial type", {size: 9.5, rotate: -90, anchor: "middle"});
T(34, ry(1), "(# targets)", {size: 8.5, rotate: -90, anchor: "middle"});
oTypes.forEach((s, k) => T(61, ry(k), s, {size: 9, anchor: "end"}));
const b1 = sx(11.15), b2 = sx(20.25);
T(b1, 884, "Minimum", {size: 8.5, anchor: "middle"});
T(b1, 894, [["[#("], ["Hit", LGREEN], [") #("], ["Miss", "#bbb"], [")]"]], {size: 8.5, anchor: "middle"});
T(b1, 915, "Return minority", {size: 8.5, anchor: "middle"});
T(b1, 925, "response type", {size: 8.5, anchor: "middle"});
T(b2, 884, "Take all trials of", {size: 8.5, anchor: "middle"});
T(b2, 894, "minority resp. type", {size: 8.5, anchor: "middle"});
T(b2, 915, "Resample trials of", {size: 8.5, anchor: "middle"});
T(b2, 925, "other resp. type", {size: 8.5, anchor: "middle"});
oMinority.forEach((m, k) => T(sx(14.3), ry(k), [[oMinorityN[k] + " "], [m, m === "Hit" ? LGREEN : "#bbb"]], {size: 9}));
oResNames.forEach((s, r) => T(sx(oResStart[r]), 869, s, {size: 10.5}));
T(455, 856, "resampled", {size: 8.5, color: PINK, anchor: "middle"});
T(455, 866, "trials", {size: 8.5, color: PINK, anchor: "middle"});
T(67, 943, "Hit (lick)", {size: 8.5, color: LGREEN});
T(67, 952, "Miss (no lick)", {size: 8.5, color: "#bbb"});
T(67, 964, "Trial IDs are ordered within trial type, trial", {size: 8.5, color: "#333"});
T(67, 975, "types randomly interleaved in experiment", {size: 8.5, color: "#333"});
T(533, 960, "Average neural metrics across trials within each resample,", {size: 10.5, anchor: "middle"});
T(533, 974, "average across resamples", {size: 10.5, anchor: "middle"});
root.append(ov.node());
</script></body></html>
